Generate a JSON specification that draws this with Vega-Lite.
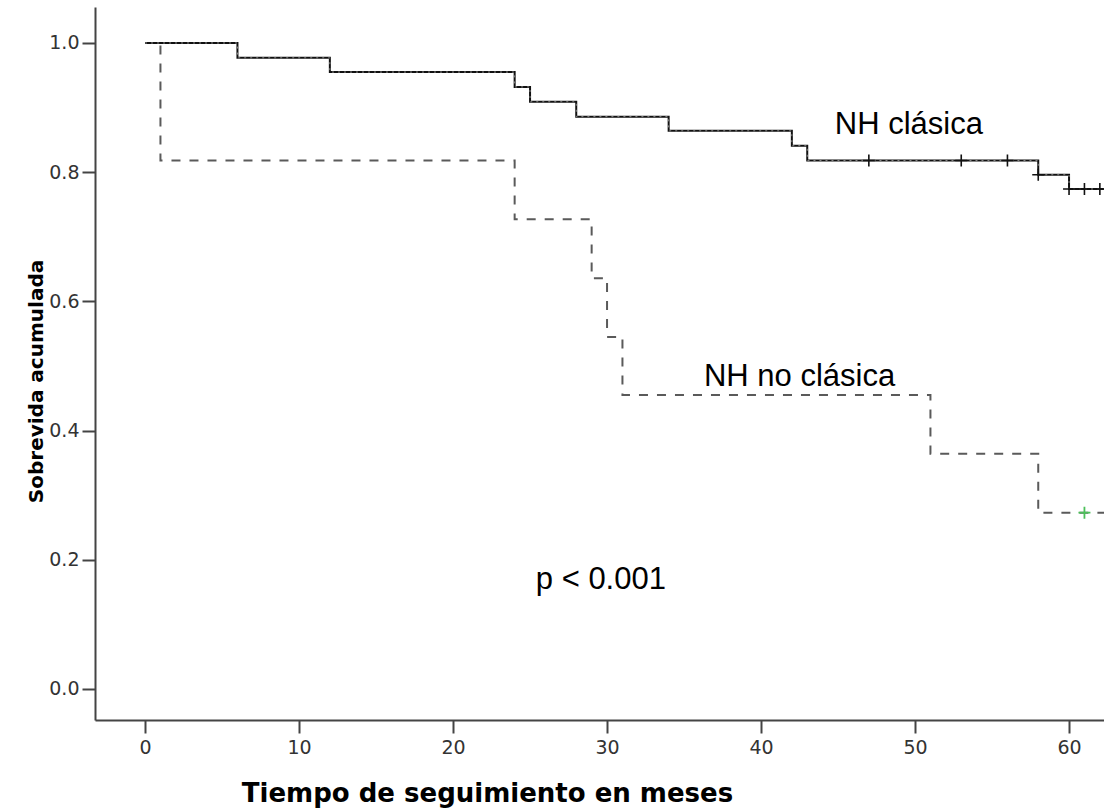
{
  "$schema": "https://vega.github.io/schema/vega-lite/v6.json",
  "width": 1009,
  "height": 713,
  "autosize": {"type": "none"},
  "padding": {"left": 95, "top": 7, "right": 0, "bottom": 90},
  "background": "white",
  "config": {
    "view": {"stroke": null},
    "axis": {
      "grid": false,
      "domainColor": "#444444",
      "domainWidth": 2,
      "tickColor": "#444444",
      "tickWidth": 2,
      "tickSize": 13,
      "labelFont": "DejaVu Sans",
      "labelFontSize": 19,
      "labelColor": "#333333",
      "titleFont": "DejaVu Sans",
      "titleFontWeight": "bold",
      "titleColor": "#000000"
    }
  },
  "datasets": {
    "curves": [
      {"grupo": "NH clásica", "t": 0, "s": 1.0},
      {"grupo": "NH clásica", "t": 6, "s": 0.977},
      {"grupo": "NH clásica", "t": 12, "s": 0.955},
      {"grupo": "NH clásica", "t": 24, "s": 0.932},
      {"grupo": "NH clásica", "t": 25, "s": 0.909},
      {"grupo": "NH clásica", "t": 28, "s": 0.886},
      {"grupo": "NH clásica", "t": 34, "s": 0.864},
      {"grupo": "NH clásica", "t": 42, "s": 0.841},
      {"grupo": "NH clásica", "t": 43, "s": 0.818},
      {"grupo": "NH clásica", "t": 58, "s": 0.796},
      {"grupo": "NH clásica", "t": 60, "s": 0.774},
      {"grupo": "NH clásica", "t": 62.4, "s": 0.774},
      {"grupo": "NH no clásica", "t": 0, "s": 1.0},
      {"grupo": "NH no clásica", "t": 1, "s": 0.818},
      {"grupo": "NH no clásica", "t": 24, "s": 0.727},
      {"grupo": "NH no clásica", "t": 29, "s": 0.636},
      {"grupo": "NH no clásica", "t": 30, "s": 0.545},
      {"grupo": "NH no clásica", "t": 31, "s": 0.455},
      {"grupo": "NH no clásica", "t": 51, "s": 0.364},
      {"grupo": "NH no clásica", "t": 58, "s": 0.273},
      {"grupo": "NH no clásica", "t": 62.4, "s": 0.273}
    ],
    "censors": [
      {"grupo": "NH clásica", "t": 47, "s": 0.818},
      {"grupo": "NH clásica", "t": 53, "s": 0.818},
      {"grupo": "NH clásica", "t": 56, "s": 0.818},
      {"grupo": "NH clásica", "t": 58, "s": 0.796},
      {"grupo": "NH clásica", "t": 60, "s": 0.774},
      {"grupo": "NH clásica", "t": 61, "s": 0.774},
      {"grupo": "NH clásica", "t": 62, "s": 0.774},
      {"grupo": "NH no clásica", "t": 61, "s": 0.273}
    ],
    "labels": [
      {"texto": "NH clásica", "t": 49.6, "s": 0.873},
      {"texto": "NH no clásica", "t": 42.5, "s": 0.483},
      {"texto": "p < 0.001", "t": 29.6, "s": 0.169}
    ]
  },
  "encoding": {
    "x": {
      "field": "t",
      "type": "quantitative",
      "scale": {"domain": [-3.25, 62.27], "nice": false, "zero": false},
      "axis": {
        "title": "Tiempo de seguimiento en meses",
        "values": [0, 10, 20, 30, 40, 50, 60],
        "labelPadding": 5,
        "titleFontSize": 26,
        "titleX": 392,
        "titleY": 81,
        "titleAlign": "center",
        "titleBaseline": "alphabetic"
      }
    },
    "y": {
      "field": "s",
      "type": "quantitative",
      "scale": {"domain": [-0.048, 1.0557], "nice": false, "zero": false},
      "axis": {
        "title": "Sobrevida acumulada",
        "values": [0, 0.2, 0.4, 0.6, 0.8, 1.0],
        "format": ".1f",
        "labelPadding": 3,
        "titleFontSize": 20,
        "titleX": -53,
        "titleY": 374,
        "titleAlign": "center",
        "titleBaseline": "alphabetic"
      }
    }
  },
  "layer": [
    {
      "data": {"name": "curves"},
      "transform": [{"filter": "datum.grupo === 'NH no clásica'"}],
      "mark": {"type": "line", "interpolate": "step-after", "color": "#5a5a5a", "strokeWidth": 2, "strokeDash": [9, 9], "clip": true}
    },
    {
      "data": {"name": "curves"},
      "transform": [{"filter": "datum.grupo === 'NH clásica'"}],
      "mark": {"type": "line", "interpolate": "step-after", "color": "#111111", "strokeWidth": 2, "clip": true}
    },
    {
      "data": {"name": "curves"},
      "transform": [{"filter": "datum.grupo === 'NH clásica'"}],
      "mark": {"type": "line", "interpolate": "step-after", "color": "#8a8a8a", "strokeWidth": 1, "strokeDash": [2, 4], "clip": true}
    },
    {
      "data": {"name": "censors"},
      "transform": [{"filter": "datum.grupo === 'NH clásica'"}],
      "mark": {"type": "point", "shape": "M-1,0L1,0M0,-1L0,1", "size": 144, "filled": false, "stroke": "#111111", "strokeWidth": 1.6, "opacity": 1, "clip": true}
    },
    {
      "data": {"name": "censors"},
      "transform": [{"filter": "datum.grupo === 'NH no clásica'"}],
      "mark": {"type": "point", "shape": "M-1,0L1,0M0,-1L0,1", "size": 144, "filled": false, "stroke": "#4cc05a", "strokeWidth": 1.8, "opacity": 1, "clip": true}
    },
    {
      "data": {"name": "labels"},
      "mark": {"type": "text", "font": "Liberation Sans", "fontSize": 31, "color": "#000000", "align": "center", "baseline": "middle"},
      "encoding": {"text": {"field": "texto"}}
    }
  ]
}
